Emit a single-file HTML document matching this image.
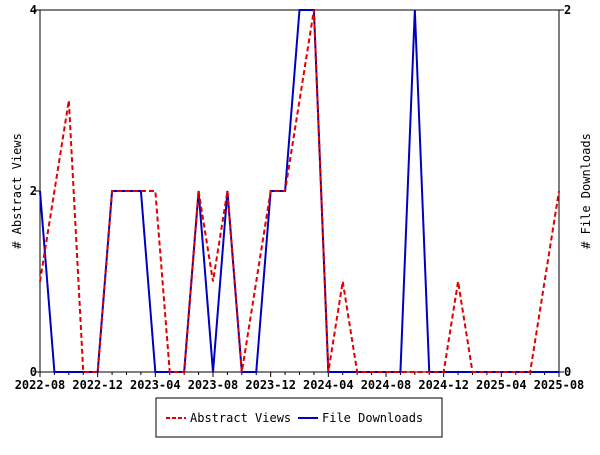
<!DOCTYPE html>
<html><head><meta charset="utf-8"><style>
body{margin:0;background:#fff}
svg text{font-family:"DejaVu Sans Mono","Liberation Mono",monospace;font-size:12px}
</style></head><body>
<svg width="600" height="450">
<g id="g"></g>
</svg>
<script>
const months=["2022-08","2022-09","2022-10","2022-11","2022-12","2023-01","2023-02","2023-03","2023-04","2023-05","2023-06","2023-07","2023-08","2023-09","2023-10","2023-11","2023-12","2024-01","2024-02","2024-03","2024-04","2024-05","2024-06","2024-07","2024-08","2024-09","2024-10","2024-11","2024-12","2025-01","2025-02","2025-03","2025-04","2025-05","2025-06","2025-07","2025-08"];
const abstractViews=[1,2,3,0,0,2,2,2,2,0,0,2,1,2,0,1,2,2,3,4,0,1,0,0,0,0,0,0,0,1,0,0,0,0,0,1,2];
const fileDownloads=[1,0,0,0,0,1,1,1,0,0,0,1,0,1,0,0,1,1,2,2,0,0,0,0,0,0,2,0,0,0,0,0,0,0,0,0,0];
const leftTicks=[0,2,4];
const rightTicks=[0,2];
const xTickLabels=["2022-08","2022-12","2023-04","2023-08","2023-12","2024-04","2024-08","2024-12","2025-04","2025-08"];
const X0=40,X1=559,Y0=372,Y1=10;
const NS="http://www.w3.org/2000/svg",g=document.getElementById('g');
const xs=i=>X0+(X1-X0)*i/(months.length-1);
const yl=v=>Y0-(Y0-Y1)*v/4;
const yr=v=>Y0-(Y0-Y1)*v/2;
function mk(t,a,txt){const e=document.createElementNS(NS,t);for(const k in a)e.setAttribute(k,a[k]);if(txt!==undefined)e.textContent=txt;g.appendChild(e);return e;}
let e=mk('rect',{x:X0,y:Y1,width:X1-X0,height:Y0-Y1,fill:'none',stroke:'#000','stroke-width':1});

months.forEach((m,i)=>{const x=xs(i);const t=mk('line',{x1:x,x2:x,y1:Y0,y2:Y0+(i%4==0?5:3),stroke:'#000'});
});
xTickLabels.forEach(l=>{const i=months.indexOf(l);const t=mk('text',{x:xs(i),y:Y0+17,'text-anchor':'middle','font-weight':'bold'},l);
});
leftTicks.forEach(v=>{mk('line',{x1:X0-5,x2:X0,y1:yl(v),y2:yl(v),stroke:'#000'});
const t=mk('text',{x:X0-3,y:yl(v)+4,'text-anchor':'end','font-weight':'bold'},v);
});
rightTicks.forEach(v=>{mk('line',{x1:X1,x2:X1+5,y1:yr(v),y2:yr(v),stroke:'#000'});
const t=mk('text',{x:X1+5,y:yr(v)+4,'font-weight':'bold'},v);
});
let t=mk('text',{x:0,y:0,transform:'translate(21,191) rotate(-90)','text-anchor':'middle','font-size':'14'},'# Abstract Views');

t=mk('text',{x:0,y:0,transform:'translate(590,191) rotate(-90)','text-anchor':'middle','font-size':'14'},'# File Downloads');

let p=mk('polyline',{points:fileDownloads.map((v,i)=>xs(i)+','+yr(v)).join(' '),fill:'none',stroke:'#0000c0','stroke-width':2});

p=mk('polyline',{points:abstractViews.map((v,i)=>xs(i)+','+yl(v)).join(' '),fill:'none',stroke:'#e00000','stroke-width':2,'stroke-dasharray':'5,3'});

e=mk('rect',{x:156,y:398,width:286,height:39,fill:'#fff',stroke:'#000'});

e=mk('line',{x1:166,x2:186,y1:418,y2:418,stroke:'#e00000','stroke-width':2,'stroke-dasharray':'4,2'});

t=mk('text',{x:190,y:422},'Abstract Views');

e=mk('line',{x1:298,x2:318,y1:418,y2:418,stroke:'#0000c0','stroke-width':2});

t=mk('text',{x:322,y:422},'File Downloads');

</script>
</body></html>
